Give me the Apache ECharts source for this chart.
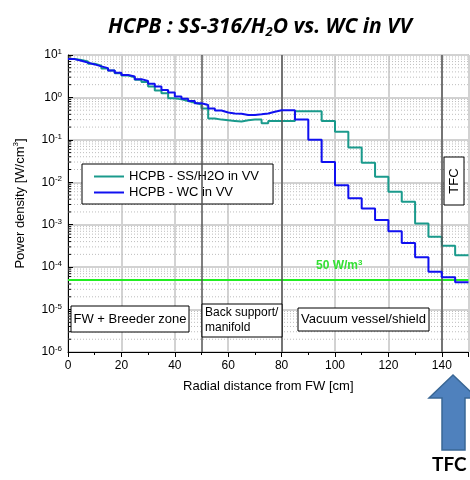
<!DOCTYPE html>
<html>
<head>
<meta charset="utf-8">
<script src="https://cdn.jsdelivr.net/npm/echarts@6/dist/echarts.min.js"></script>
<style>
  html, body { margin: 0; padding: 0; background: #fff; }
  #main { width: 470px; height: 480px; }
</style>
</head>
<body>
<div id="main"></div>
<script>
// bin edges of the tally cells [cm]
var binEdges = [0, 2.5, 5, 7.5, 10, 12.5, 15, 17.5, 20, 22.5, 25, 27.5, 30, 32.5, 35, 37.5, 40, 42.5, 45, 47.5,
    50, 52.5, 55, 57.5, 60, 62.5, 65, 67.5, 70, 72.5, 75, 77.5,
    80, 85, 90, 95, 100, 105, 110, 115, 120, 125, 130, 135, 140, 145, 150];

// HCPB - SS/H2O in VV  [W/cm3], one value per bin
var ssH2O = [8.0, 7.6, 7.0, 6.2, 5.6, 4.8, 4.3, 3.7, 3.3, 3.0, 2.6, 2.3, 1.8, 1.45, 1.25, 0.95, 0.9, 0.82, 0.75, 0.68,
    0.55, 0.32, 0.30, 0.29, 0.28, 0.27, 0.29, 0.30, 0.30, 0.245, 0.28, 0.28,
    0.28, 0.47, 0.47, 0.28, 0.155, 0.066, 0.029, 0.0135, 0.006, 0.0035, 0.00107, 0.00052, 0.00032, 0.00019];

// HCPB - WC in VV
var wcVV = [8.0, 7.3, 6.6, 6.0, 5.4, 4.9, 4.3, 3.8, 3.4, 3.1, 2.7, 2.45, 2.1, 1.8, 1.5, 1.3, 1.05, 0.93, 0.82, 0.73,
    0.66, 0.55, 0.49, 0.44, 0.42, 0.41, 0.385, 0.385, 0.40, 0.42, 0.46, 0.50,
    0.50, 0.30, 0.10, 0.030, 0.0085, 0.0042, 0.0024, 0.0013, 0.0007, 0.00037, 0.00017, 0.000078, 0.000058, 0.000044];

var zoneBounds = [50, 80, 140];
var limitValue = 5e-5;   // 50 W/m3
var decades = [-6, -5, -4, -3, -2, -1, 0, 1];

function stepData(vals) {
    var out = [];
    for (var i = 0; i < vals.length; i++) out.push([binEdges[i], vals[i]]);
    out.push([binEdges[vals.length], vals[vals.length - 1]]);
    return out;
}

// minor decade lines 2..9 x 10^n
var minorVals = [];
for (var d = 0; d < decades.length - 1; d++) {
    for (var k = 2; k <= 9; k++) minorVals.push([0, k * Math.pow(10, decades[d])]);
}

var font = 'Liberation Sans, Arial, sans-serif';
var chart = echarts.init(document.getElementById('main'));

// a white box with text, for the zone captions
function labelBox(x, y, w, h, text, fontSize, align) {
    return {
        type: 'group', x: x, y: y, z: 20,
        children: [
            { type: 'rect', z: 20, shape: { x: 0, y: 0, width: w, height: h }, style: { fill: '#fff', stroke: '#000', lineWidth: 1 } },
            { type: 'text', z: 21, x: align === 'left' ? 3 : w / 2, y: h / 2,
              style: { text: text, font: fontSize + 'px Liberation Sans', lineHeight: 15, fill: '#000', align: align, verticalAlign: 'middle' } }
        ]
    };
}

var option = {
    animation: false,
    title: {
        text: '{a|HCPB : SS-316/H}{s|2}{a|O vs. WC in VV}',
        left: 103,
        top: 10,
        textStyle: {
            rich: {
                a: { fontFamily: 'Open Sans', fontStyle: 'italic', fontWeight: 'bold', fontSize: 21, color: '#000', lineHeight: 24 },
                s: { fontFamily: 'Open Sans', fontStyle: 'italic', fontWeight: 'bold', fontSize: 13, color: '#000', lineHeight: 24, verticalAlign: 'bottom', padding: [6, 0, 0, 0] }
            }
        }
    },
    grid: {
        left: 68, right: 1.5, top: 55, bottom: 128,
        show: true, borderColor: '#000', borderWidth: 1
    },
    legend: {
        orient: 'vertical',
        left: 82, top: 164,
        padding: [6, 14, 5, 12],
        itemGap: 3,
        itemWidth: 30, itemHeight: 2,
        icon: 'rect',
        backgroundColor: '#fff',
        borderColor: '#000', borderWidth: 1,
        textStyle: { fontFamily: font, fontSize: 13, color: '#000' },
        data: ['HCPB - SS/H2O in VV', 'HCPB - WC in VV']
    },
    xAxis: {
        type: 'value',
        min: 0, max: 150, interval: 20,
        name: 'Radial distance from FW [cm]',
        nameLocation: 'middle',
        nameGap: 28,
        nameTextStyle: { fontFamily: font, fontSize: 13, color: '#000' },
        axisLine: { lineStyle: { color: '#000', width: 1 } },
        axisTick: { inside: false, length: 5, lineStyle: { color: '#000' } },
        minorTick: { show: true, splitNumber: 2, length: 3, lineStyle: { color: '#000' } },
        axisLabel: { fontFamily: font, fontSize: 12, color: '#000', margin: 8, showMaxLabel: false },
        splitLine: { show: true, lineStyle: { color: '#d2d2d2', width: 2 } }
    },
    yAxis: {
        type: 'log',
        min: 1e-6, max: 10,
        name: '{a|Power density [W/cm}{s|3}{a|]}',
        nameLocation: 'middle',
        nameRotate: 90,
        nameGap: 40,
        nameTextStyle: {
            rich: {
                a: { fontFamily: font, fontSize: 13, color: '#000', lineHeight: 16 },
                s: { fontFamily: font, fontSize: 8, color: '#000', lineHeight: 16, verticalAlign: 'top', padding: [0, 0, 6, 0] }
            }
        },
        axisLine: { lineStyle: { color: '#000', width: 1 } },
        axisTick: { inside: true, length: 5, lineStyle: { color: '#000' } },
        axisLabel: {
            margin: 6,
            formatter: function (v) {
                return '{b|10}{e|' + Math.round(Math.log10(v)) + '}';
            },
            rich: {
                b: { fontFamily: font, fontSize: 12, color: '#000', lineHeight: 14 },
                e: { fontFamily: font, fontSize: 8, color: '#000', lineHeight: 14, verticalAlign: 'top', padding: [0, 0, 6, 0] }
            }
        },
        splitLine: { show: true, lineStyle: { color: '#d2d2d2', width: 2 } }
    },
    series: [
        {
            name: 'minor',
            type: 'custom',
            silent: true,
            z: 1,
            data: minorVals,
            renderItem: function (params, api) {
                var y = api.coord([0, api.value(1)])[1];
                var x0 = params.coordSys.x, x1 = x0 + params.coordSys.width;
                return {
                    type: 'group',
                    children: [
                        { type: 'line', shape: { x1: x0, y1: y, x2: x1, y2: y }, style: { stroke: '#bdbdbd', lineWidth: 1, lineDash: [1, 2] } },
                        { type: 'line', shape: { x1: x0, y1: y, x2: x0 + 3, y2: y }, style: { stroke: '#000', lineWidth: 1 } }
                    ]
                };
            }
        },
        {
            name: 'limit',
            type: 'line',
            symbol: 'none',
            silent: true,
            z: 3,
            data: [[0, limitValue], [150, limitValue]],
            lineStyle: { color: '#22ee22', width: 2 }
        },
        {
            name: 'HCPB - SS/H2O in VV',
            type: 'line',
            step: 'end',
            symbol: 'none',
            z: 4,
            data: stepData(ssH2O),
            lineStyle: { color: '#1a9a8c', width: 2 },
            itemStyle: { color: '#1a9a8c' },
            markLine: {
                silent: true,
                symbol: 'none',
                label: { show: false },
                lineStyle: { color: '#555', width: 1.5, type: 'solid' },
                data: zoneBounds.map(function (b) { return { xAxis: b }; })
            }
        },
        {
            name: 'HCPB - WC in VV',
            type: 'line',
            step: 'end',
            symbol: 'none',
            z: 5,
            data: stepData(wcVV),
            lineStyle: { color: '#1010f0', width: 2 },
            itemStyle: { color: '#1010f0' }
        }
    ],
    graphic: [
        {
            type: 'text', x: 316, y: 259, z: 20,
            style: {
                text: '{a|50 W/m}{s|3}',
                rich: {
                    a: { fontFamily: font, fontSize: 12, fontWeight: 'bold', fill: '#33e033', lineHeight: 14 },
                    s: { fontFamily: font, fontSize: 8, fontWeight: 'bold', fill: '#33e033', lineHeight: 14, verticalAlign: 'top', padding: [0, 0, 6, 0] }
                }
            }
        },
        labelBox(71, 306, 118, 26, 'FW + Breeder zone', 13, 'center'),
        labelBox(202, 304, 80, 33, 'Back support/\nmanifold', 12, 'left'),
        labelBox(298, 308, 131, 23, 'Vacuum vessel/shield', 13, 'center'),
        {
            type: 'group', x: 444, y: 157, z: 20,
            children: [
                { type: 'rect', z: 20, shape: { x: 0, y: 0, width: 20, height: 48 }, style: { fill: '#fff', stroke: '#000', lineWidth: 1 } },
                { type: 'text', z: 21, x: 10, y: 24, rotation: Math.PI / 2, style: { text: 'TFC', font: '13px Liberation Sans', fill: '#000', align: 'center', verticalAlign: 'middle' } }
            ]
        },
        // TFC arrow below the plot
        {
            type: 'polygon', z: 20,
            shape: { points: [[453, 375], [477, 398], [465, 398], [465, 450], [442, 450], [442, 398], [429, 398]] },
            style: { fill: '#4f81bd', stroke: '#3a6795', lineWidth: 1.5 }
        },
        {
            type: 'text', x: 432, y: 455, z: 20,
            style: { text: 'TFC', font: 'bold 19px Lato', fill: '#000' }
        }
    ]
};

chart.setOption(option);
</script>
</body>
</html>
